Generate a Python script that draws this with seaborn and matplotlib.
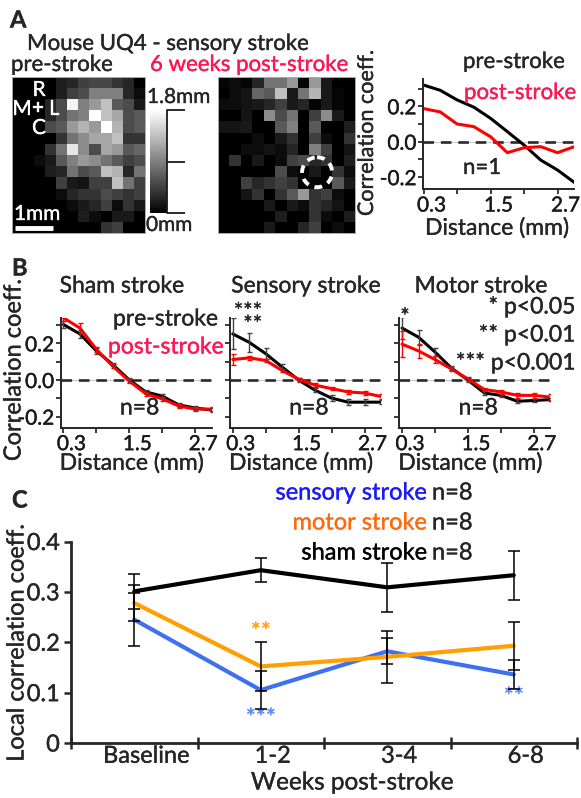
import numpy as np
import pandas as pd
import matplotlib
matplotlib.use("Agg")
import matplotlib.pyplot as plt
import matplotlib.transforms as mtransforms
import matplotlib.patheffects as pe
from matplotlib.text import Text
from matplotlib.patches import Ellipse
import seaborn as sns

# ---------------- data ----------------
# Panel A maps (fraction of the 1.8 mm full scale), 14 rows x 12 columns
FULL_SCALE_MM = 1.8
pre_map = [
    [0, 0, 0, 0, 0.12, 0.15, 0.25, 0.28, 0.28, 0.20, 0.15, 0],
    [0, 0, 0, 0, 0.12, 0.25, 0.30, 0.50, 0.50, 0.50, 0.15, 0.05],
    [0, 0, 0, 0.15, 0.30, 0.95, 0.50, 0.60, 0.75, 0.35, 0.30, 0.10],
    [0, 0, 0, 0.15, 0.30, 0.45, 0.50, 1.00, 0.75, 0.65, 0.30, 0.35],
    [0, 0, 0, 0.30, 0.35, 0.60, 0.70, 0.60, 1.00, 0.70, 0.30, 0.35],
    [0, 0, 0, 0, 0.20, 0.45, 0.55, 0.65, 0.65, 0.75, 0.20, 0.20],
    [0, 0, 0, 0.20, 0.45, 0.90, 0.55, 0.30, 0.65, 0.60, 0.35, 0.40],
    [0, 0, 0.05, 0.10, 0.35, 0.50, 0.60, 0.55, 0.45, 0.35, 0.25, 0.30],
    [0, 0, 0, 0.12, 0.15, 0.45, 0.30, 0.35, 0.75, 0.70, 0.15, 0.45],
    [0, 0, 0, 0, 0.25, 0.10, 0.08, 0.25, 0.25, 0.75, 0.45, 0.25],
    [0, 0, 0, 0, 0.05, 0.15, 0.20, 0.20, 0.30, 0.25, 0.20, 0.25],
    [0, 0, 0, 0, 0, 0.05, 0.10, 0.15, 0.25, 0.05, 0.20, 0.10],
    [0, 0, 0, 0, 0, 0, 0.12, 0.05, 0, 0.10, 0.10, 0],
    [0, 0, 0, 0, 0, 0, 0, 0, 0.20, 0.25, 0, 0],
]
post_map = [
    [0.02, 0.05, 0.02, 0.15, 0.45, 0.45, 0.60, 0.02, 0.60, 0.10, 0, 0],
    [0, 0.05, 0.08, 0.40, 0.35, 0.75, 0.10, 0.45, 0.70, 0.10, 0.02, 0],
    [0.05, 0.05, 0.08, 0.10, 0.15, 0.25, 0.10, 0.15, 0.02, 0.10, 0.02, 0],
    [0, 0, 0.08, 0, 0.55, 0.30, 0.45, 0, 0.25, 0.55, 0.10, 0],
    [0.08, 0.08, 0.10, 0, 0, 0.35, 0.50, 0, 0.35, 0, 0, 0.12],
    [0, 0, 0, 0.05, 0, 0.10, 0.20, 0, 0.25, 0.05, 0, 0.20],
    [0, 0, 0.05, 0.05, 0.08, 0.05, 0.15, 0, 0.50, 0.25, 0, 0.08],
    [0, 0.20, 0, 0.10, 0, 0.05, 0.25, 0.30, 0.15, 0.20, 0, 0.12],
    [0, 0, 0, 0, 0, 0.30, 0.05, 0, 0.10, 0, 0.20, 0.05],
    [0, 0, 0.25, 0.15, 0.20, 0.25, 0.20, 0, 0.02, 0, 0.35, 0.10],
    [0, 0, 0.08, 0.20, 0, 0.20, 0.35, 0.60, 0.20, 0.25, 0.05, 0],
    [0, 0, 0, 0, 0.10, 0, 0.10, 0.05, 0.20, 0.15, 0.08, 0],
    [0, 0, 0, 0, 0, 0.12, 0, 0, 0.20, 0.05, 0, 0.12],
    [0, 0, 0, 0, 0.10, 0, 0, 0.15, 0.25, 0, 0.05, 0],
]
lesion_center = (8.68, 8.54)   # heatmap cell coords of dashed circle

distance = [0.3, 0.6, 0.9, 1.2, 1.5, 1.8, 2.1, 2.4, 2.7, 3.0]
a_pre = [0.32, 0.29, 0.236, 0.195, 0.132, 0.057, -0.019, -0.104, -0.16, -0.23]
a_post = [0.187, 0.168, 0.10, 0.085, 0.028, -0.062, -0.034, -0.028, -0.062, -0.028]

sham_pre = [0.303, 0.252, 0.159, 0.084, 0.0, -0.065, -0.088, -0.136, -0.153, -0.164]
sham_pre_err = [0.02, 0.02, 0.015, 0.01, 0.01, 0.01, 0.01, 0.01, 0.01, 0.01]
sham_post = [0.34, 0.284, 0.168, 0.075, -0.006, -0.075, -0.103, -0.142, -0.159, -0.159]
sham_post_err = [0.02, 0.025, 0.015, 0.012, 0.01, 0.01, 0.01, 0.012, 0.01, 0.012]
sens_pre = [0.252, 0.206, 0.144, 0.071, 0.0, -0.056, -0.099, -0.121, -0.121, -0.121]
sens_pre_err = [0.085, 0.053, 0.03, 0.015, 0.01, 0.012, 0.015, 0.015, 0.015, 0.01]
sens_post = [0.112, 0.121, 0.107, 0.052, 0.004, -0.028, -0.047, -0.065, -0.071, -0.09]
sens_post_err = [0.028, 0.01, 0.01, 0.01, 0.008, 0.01, 0.01, 0.012, 0.01, 0.012]
motor_pre = [0.284, 0.234, 0.153, 0.065, 0.0, -0.071, -0.084, -0.116, -0.112, -0.107]
motor_pre_err = [0.06, 0.04, 0.02, 0.012, 0.01, 0.01, 0.01, 0.01, 0.01, 0.01]
motor_post = [0.196, 0.159, 0.112, 0.06, 0.006, -0.052, -0.065, -0.084, -0.084, -0.093]
motor_post_err = [0.07, 0.04, 0.02, 0.012, 0.01, 0.01, 0.012, 0.015, 0.015, 0.015]

weeks = ["Baseline", "1-2", "3-4", "6-8"]
sham_c = [0.301, 0.343, 0.309, 0.333]
sham_c_err = [0.035, 0.024, 0.048, 0.049]
motor_c = [0.278, 0.152, 0.171, 0.193]
motor_c_err = [0.036, 0.049, 0.051, 0.048]
sensory_c = [0.245, 0.105, 0.182, 0.136]
sensory_c_err = [0.052, 0.037, 0.026, 0.029]

# ---------------- style ----------------
W, H = 581, 798
sns.set_theme(style="ticks")
plt.rcParams["font.family"] = ["Lato", "DejaVu Sans"]
plt.rcParams["axes.linewidth"] = 1.4
PINK = "#ff1654"
RED = "#ff0000"
BLUE_LINE = "#3f70f2"
ORANGE_LINE = "#ffa000"
BLUE_TXT = "#1a1aff"
ORANGE_TXT = "#ff6a10"

fig = plt.figure(figsize=(W / 100, H / 100), dpi=100)


def px_ax(l, t, r, b):
    return fig.add_axes([l / W, 1 - b / H, (r - l) / W, (b - t) / H])


def ftext(x, y, s, **kw):
    kw.setdefault("va", "center")
    return fig.text(x / W, 1 - y / H, s, **kw)


def shift_xlabels(ax, dx_px):
    off = mtransforms.ScaledTranslation(dx_px / 100, 0, fig.dpi_scale_trans)
    for lab in ax.get_xticklabels(which="both"):
        lab.set_transform(lab.get_transform() + off)


# ---------------- Panel A ----------------
ax_h1 = px_ax(11.7, 76.7, 145, 233.3)
ax_h2 = px_ax(218, 76.7, 355, 233.3)
cax = px_ax(150, 110, 167, 213)
sns.heatmap(np.array(pre_map) * FULL_SCALE_MM, ax=ax_h1, cmap="gray", vmin=0,
            vmax=FULL_SCALE_MM, cbar_ax=cax, xticklabels=False, yticklabels=False)
sns.heatmap(np.array(post_map) * FULL_SCALE_MM, ax=ax_h2, cmap="gray", vmin=0,
            vmax=FULL_SCALE_MM, cbar=False, xticklabels=False, yticklabels=False)
for a in (ax_h1, ax_h2):
    a.tick_params(length=0)
    for sp in a.spines.values():
        sp.set_visible(True)
        sp.set_color("#aaaaaa")
        sp.set_linewidth(0.7)
cb = ax_h1.collections[0].colorbar
cb.set_ticks([0, FULL_SCALE_MM / 2, FULL_SCALE_MM])
cb.ax.tick_params(length=13, width=1.3, color="k", labelright=False, direction="out")
cb.outline.set_visible(False)
cax.axvline(1, color="k", lw=1.3, clip_on=False)

ax_h2.add_patch(Ellipse(lesion_center, 2.63, 2.68, fill=False, ec="white", lw=2.8,
                        ls=(0, (2.0, 1.6))))
ax_h1.plot([0.3, 3.72], [13.52, 13.52], color="white", lw=3.5, solid_capstyle="butt")

ftext(10, 20, "A", fontsize=17, fontweight="bold")
ftext(27, 44, "Mouse UQ4 - sensory stroke", fontsize=16)
ftext(11, 65, "pre-stroke", fontsize=16)
ftext(150, 65, "6 weeks post-stroke", fontsize=16, color=PINK)
ftext(39, 90, "R", fontsize=15, color="white", ha="center")
ftext(22, 109, "M", fontsize=15, color="white", ha="center")
ftext(38, 108, "+", fontsize=15, color="white", ha="center")
ftext(54, 109, "L", fontsize=15, color="white", ha="center")
ftext(39, 128, "C", fontsize=15, color="white", ha="center")
ftext(14, 214, "1mm", fontsize=15, color="white")
ftext(147, 97, "1.8mm", fontsize=15)
ftext(146, 225, "0mm", fontsize=15)


def style_dist_ax(ax, xlim, ylim, ylabels=True):
    ax.axhline(0, color="#c8c8c8", lw=0.8, zorder=0)
    ax.axhline(0, color="#2a2a2a", lw=1.9, ls=(0, (4.0, 2.6)), zorder=1)
    ax.set_xlim(*xlim)
    ax.set_ylim(*ylim)
    ax.set_xticks([0.3, 0.9, 1.5, 2.1, 2.7], ["0.3", "", "1.5", "", "2.7"])
    ylab = ["-0.2", "", "0.0", "", "0.2", ""] if ylabels else [""] * 6
    ax.set_yticks([-0.2, -0.1, 0, 0.1, 0.2, 0.3], ylab)
    ax.set_xlabel("")
    ax.set_ylabel("")
    sns.despine(ax=ax)
    ax.tick_params(direction="out", length=3.5, width=1.2, labelsize=15, pad=1.2,
                   colors="k")
    shift_xlabels(ax, 8)


ax_a = px_ax(423, 79, 574.3, 189)
dfa = pd.DataFrame({"distance": distance * 2, "corr": a_pre + a_post,
                    "phase": ["pre"] * len(distance) + ["post"] * len(distance)})
sns.lineplot(data=dfa, x="distance", y="corr", hue="phase",
             palette={"pre": "black", "post": RED}, lw=2.2, legend=False, ax=ax_a)
style_dist_ax(ax_a, (0.29, 3.0), (-0.267, 0.354))
ftext(463, 62, "pre-stroke", fontsize=16)
ftext(464, 93, "post-stroke", fontsize=16, color=PINK)
ftext(463, 168, "n=1", fontsize=16)
ftext(497, 228, "Distance (mm)", fontsize=16.5, ha="center")
ftext(367, 133, "Correlation coeff.", fontsize=15.5, rotation=90, ha="center")

# ---------------- Panel B ----------------
b_sets = [
    ("Sham stroke", sham_pre, sham_pre_err, sham_post, sham_post_err, 60.7, 122),
    ("Sensory stroke", sens_pre, sens_pre_err, sens_post, sens_post_err, 230, 306),
    ("Motor stroke", motor_pre, motor_pre_err, motor_post, motor_post_err, 399.3, 481),
]
for i, (title, pre, pre_e, post, post_e, left, tx) in enumerate(b_sets):
    ax = px_ax(left, 317.8, left + 151, 427.6)
    dfb = pd.DataFrame({"distance": distance * 2, "corr": pre + post,
                        "phase": ["pre"] * len(distance) + ["post"] * len(distance)})
    sns.lineplot(data=dfb, x="distance", y="corr", hue="phase",
                 palette={"pre": "black", "post": RED}, lw=2.2, legend=False, ax=ax)
    ax.errorbar(distance, pre, yerr=pre_e, fmt="none", ecolor="#444444",
                elinewidth=1.0, capsize=1.8, capthick=1.0, zorder=3)
    ax.errorbar(distance, post, yerr=post_e, fmt="none", ecolor=RED,
                elinewidth=1.0, capsize=1.8, capthick=1.0, zorder=3)
    style_dist_ax(ax, (0.25, 3.0), (-0.26, 0.34), ylabels=(i == 0))
    ftext(tx, 286, title, fontsize=16.5, ha="center")
    ftext(left + 79, 408, "n=8", fontsize=16.5, ha="center")
    ftext(left + 71, 463, "Distance (mm)", fontsize=16.5, ha="center")

ftext(12, 268, "B", fontsize=17, fontweight="bold")
ftext(14, 370, "Correlation coeff.", fontsize=17, rotation=90, ha="center")
ftext(113, 319, "pre-stroke", fontsize=16.5)
ftext(108, 347, "post-stroke", fontsize=16.5, color=PINK)
ftext(248, 319, "***\n**", fontsize=16, ha="center", ma="right", linespacing=0.55)
ftext(405, 318, "*", fontsize=16, ha="center")
ftext(575, 307, "* p<0.05", fontsize=16.5, ha="right")
ftext(575, 335, "** p<0.01", fontsize=16.5, ha="right")
ftext(575, 363, "*** p<0.001", fontsize=16.5, ha="right")

# ---------------- Panel C ----------------
ax_c = px_ax(71, 541.5, 577, 743)
dfc = pd.DataFrame({
    "week": weeks * 3,
    "corr": sham_c + motor_c + sensory_c,
    "group": ["sham"] * 4 + ["motor"] * 4 + ["sensory"] * 4,
})
sns.lineplot(data=dfc, x="week", y="corr", hue="group",
             palette={"sham": "black", "motor": ORANGE_LINE, "sensory": BLUE_LINE},
             hue_order=["sensory", "motor", "sham"], lw=3.0, legend=False, ax=ax_c)
xpos = np.arange(len(weeks))
for vals, errs in ((sham_c, sham_c_err), (motor_c, motor_c_err), (sensory_c, sensory_c_err)):
    ax_c.errorbar(xpos, vals, yerr=errs, fmt="none", ecolor="black", elinewidth=1.1,
                  capsize=4.5, capthick=1.1, zorder=5)
ax_c.set_xlim(-0.5, 3.5)
ax_c.set_ylim(0, 0.4)
ax_c.set_xticks([-0.5, 0.5, 1.5, 2.5, 3.5], [""] * 5)
ax_c.set_xticks(xpos, weeks, minor=True)
ax_c.set_yticks([0, 0.1, 0.2, 0.3, 0.4], ["0", "0.1", "0.2", "0.3", "0.4"])
ax_c.set_xlabel("")
ax_c.set_ylabel("")
sns.despine(ax=ax_c)
for sp in ("left", "bottom"):
    ax_c.spines[sp].set_linewidth(2.0)
ax_c.tick_params(axis="x", which="major", direction="inout", length=8, width=1.8)
ax_c.tick_params(axis="x", which="minor", length=0, labelsize=17, pad=2)
ax_c.tick_params(axis="y", direction="out", length=5, width=1.8, labelsize=17, pad=3)
shift_xlabels(ax_c, 12)

ax_c.text(1, 0.219, "**", color="#ffa31a", fontsize=17, ha="center", va="center")
ax_c.text(1, 0.048, "***", color="#5b8cff", fontsize=17, ha="center", va="center")
ax_c.text(3, 0.09, "**", color="#5b8cff", fontsize=17, ha="center", va="center")

ftext(12, 500, "C", fontsize=17, fontweight="bold")
for y, name, col in ((493, "sensory stroke", BLUE_TXT), (523, "motor stroke", ORANGE_TXT),
                     (553, "sham stroke", "black")):
    ftext(427, y, name, fontsize=17, color=col, ha="right")
    ftext(432, y, "n=8", fontsize=17)
ftext(17, 643, "Local correlation coeff.", fontsize=17, rotation=90, ha="center")
ftext(352, 783, "Weeks post-stroke", fontsize=17.5, ha="center")

# slightly heavier glyphs, closer to the original typeface weight
for t in fig.findobj(Text):
    if t.get_text():
        t.set_path_effects([pe.withStroke(linewidth=0.25, foreground=t.get_color())])

fig.savefig("out.png", dpi=100)
